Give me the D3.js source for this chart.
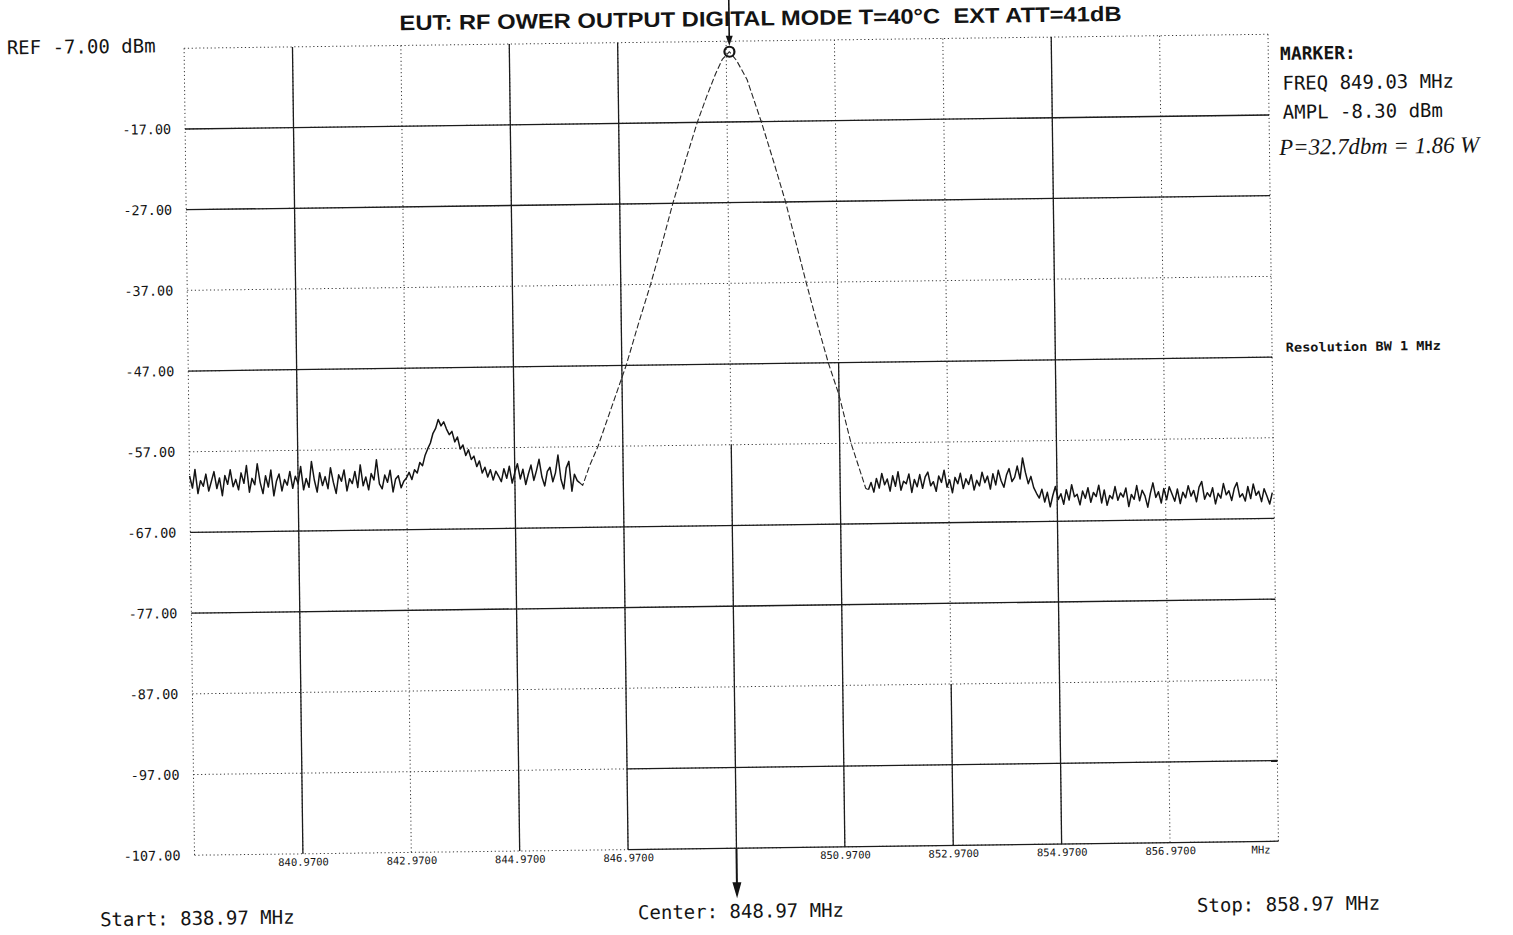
<!DOCTYPE html>
<html>
<head>
<meta charset="utf-8">
<script src="https://cdn.jsdelivr.net/npm/d3@7"></script>
<style>
  html, body { margin: 0; padding: 0; background: #fff; }
  svg { display: block; }
  text { white-space: pre; }
</style>
</head>
<body>
<svg id="chart" width="1513" height="935"></svg>
<script>
// ---------- sweep settings ----------
const startFreq = 838.97;
const stopFreq = 858.97;
const centerFreq = 848.97;
const refLevel = -7;
const bottomLevel = -107;

// grid divisions (MHz and dBm)
const gridFreqs = [838.97, 840.97, 842.97, 844.97, 846.97, 848.97, 850.97, 852.97, 854.97, 856.97, 858.97];
const gridLevels = [-7, -17, -27, -37, -47, -57, -67, -77, -87, -97, -107];

// tick labels
const yTickValues = [-17, -27, -37, -47, -57, -67, -77, -87, -97, -107];
const xTickValues = [840.97, 842.97, 844.97, 846.97, 850.97, 852.97, 854.97, 856.97];

// ---------- trace ----------
const sweepStep = 0.05;

// noise floor below the carrier, from 838.97 MHz (dBm)
const noiseLowStart = 838.97;
const noiseLow = [
  -60.0,-61.5,-59.2,-62.2,-60.6,-61.3,-59.8,-61.9,-60.7,-59.5,-61.6,-60.3,-62.5,-60.0,-61.1,-59.3,-61.4,-60.5,-61.8,-59.7,
  -61.0,-58.8,-62.1,-60.4,-61.2,-58.6,-60.9,-62.3,-60.1,-61.5,-59.4,-62.6,-60.8,-59.9,-62.0,-60.6,-61.3,-59.6,-61.7,-60.2,
  -61.1,-59.0,-61.9,-60.5,-61.6,-58.4,-60.7,-62.2,-59.8,-61.4,-60.3,-61.8,-59.2,-61.0,-62.4,-60.1,-60.9,-59.5,-62.1,-60.6,
  -61.2,-59.7,-61.7,-58.9,-61.5,-60.4,-62.0,-60.0,-60.8,-58.3,-61.3,-61.9,-60.2,-61.1,-59.6,-62.3,-60.7,-60.3,-61.8,-61.0,
  -60.6,-59.9,-60.8,-59.6,-60.0,-58.7,-59.1,-57.8,-57.0,-56.3,-55.1,-54.5,-53.4,-54.2,-53.7,-54.6,-55.3,-54.9,-56.2,-55.6,
  -57.1,-56.6,-57.9,-57.2,-58.4,-58.0,-59.3,-58.6,-60.1,-59.4,-60.6,-59.7,-61.0,-59.9,-60.5,-61.2,-59.6,-60.8,-59.3,-61.4,
  -60.1,-59.0,-60.9,-59.7,-61.6,-60.3,-59.2,-61.1,-59.9,-58.5,-60.7,-61.8,-60.0,-59.5,-61.3,-60.2,-58.0,-61.0,-62.2,-59.6,
  -58.8,-62.5,-60.4,-61.2,-61.5
];

// carrier lobe
const lobeFreq  = [846.22, 846.35, 846.51, 846.78, 847.05, 847.28, 847.52, 847.74, 847.95, 848.18, 848.42, 848.60, 848.77, 848.90,
                   849.03, 849.16, 849.35, 849.60, 849.82, 850.03, 850.21, 850.39, 850.58, 850.78, 850.97, 851.18, 851.32, 851.44];
const lobeLevel = [-61.8, -59.4, -57.0, -52.0, -47.0, -42.0, -37.0, -32.0, -27.0, -22.0, -17.0, -13.8, -11.0, -9.2,
                   -8.3, -9.4, -11.8, -17.0, -22.0, -27.0, -32.0, -37.0, -42.0, -47.0, -51.0, -57.0, -60.0, -62.6];

// noise floor above the carrier, from 851.49 MHz (dBm)
const noiseHighStart = 851.49;
const noiseHigh = [
  -62.8,-61.9,-63.1,-61.4,-62.6,-60.8,-62.2,-61.5,-63.0,-61.1,-62.4,-60.6,-62.9,-61.8,-62.1,-60.9,-63.2,-61.6,-62.5,-61.0,
  -62.7,-61.3,-60.7,-62.4,-61.9,-63.1,-61.2,-62.0,-60.5,-62.6,-61.7,-63.3,-61.4,-62.2,-60.9,-62.8,-61.6,-62.3,-61.1,-63.0,
  -61.8,-62.5,-60.8,-62.1,-61.3,-62.9,-61.0,-62.4,-60.6,-61.9,-62.7,-61.2,-60.4,-62.0,-61.5,-60.1,-61.7,-59.1,-60.9,-62.3,
  -61.4,-62.8,-63.5,-64.1,-63.0,-64.6,-63.4,-65.2,-63.8,-62.7,-64.3,-63.6,-64.9,-63.1,-64.4,-62.5,-64.0,-63.7,-65.0,-63.3,
  -64.2,-62.9,-64.7,-63.5,-64.0,-62.6,-64.8,-63.2,-65.1,-63.9,-64.3,-62.8,-64.5,-63.6,-64.1,-63.0,-65.3,-63.8,-64.4,-62.7,
  -64.6,-63.3,-64.0,-65.4,-63.7,-62.4,-64.2,-63.5,-64.9,-63.1,-64.5,-62.9,-63.8,-64.7,-63.2,-65.0,-63.6,-64.3,-62.8,-64.1,
  -63.4,-64.8,-63.0,-62.3,-64.5,-63.7,-64.2,-63.1,-65.1,-63.8,-64.4,-62.6,-64.0,-63.5,-64.7,-63.2,-62.5,-64.3,-63.9,-64.8,
  -63.0,-64.5,-62.7,-64.1,-63.6,-64.9,-63.3,-64.2,-65.2,-63.8
];

// marker readout
const markerFreq = 849.03;
const markerLevel = -8.30;

// ---------- layout ----------
const W = 1513, H = 935;
const L = 189.25, T = 41.25, PW = 1084, PH = 807;
const R = L + PW, B = T + PH;
const tilt = -0.74;              // the printed sheet sits slightly askew
const cx = L + PW / 2, cy = T + PH / 2;

const monoFont = "'DejaVu Sans Mono', 'Liberation Mono', monospace";
const ink = '#141414';

const svg = d3.select('#chart');
svg.append('rect').attr('width', W).attr('height', H).attr('fill', '#fff');
const page = svg.append('g').attr('transform', `rotate(${tilt},${cx},${cy})`);

const x = d3.scaleLinear().domain([startFreq, stopFreq]).range([L, R]);
const y = d3.scaleLinear().domain([bottomLevel, refLevel]).range([B, T]);

// ---------- graticule ----------
// which parts of each division line printed as a solid stroke
const vSolid = {
  '840.97': [-107, -7], '844.97': [-107, -7], '846.97': [-107, -7],
  '848.97': [-107, -57], '850.97': [-107, -47], '852.97': [-107, -87], '854.97': [-107, -7]
};
const hSolid = {
  '-17': [startFreq, stopFreq], '-27': [startFreq, stopFreq], '-47': [startFreq, stopFreq],
  '-67': [startFreq, stopFreq], '-77': [startFreq, stopFreq],
  '-97': [846.97, stopFreq], '-107': [846.97, stopFreq]
};

const grid = page.append('g');
const dotted = sel => sel.attr('stroke', '#3a3a3a').attr('stroke-width', 1).attr('stroke-dasharray', '1.2,2.6');
const solid = sel => sel.attr('stroke', '#1c1c1c').attr('stroke-width', 1.3);

grid.selectAll('line.vd').data(gridFreqs).join('line').attr('class', 'vd')
  .attr('x1', d => x(d)).attr('x2', d => x(d)).attr('y1', T).attr('y2', B).call(dotted);
grid.selectAll('line.hd').data(gridLevels).join('line').attr('class', 'hd')
  .attr('y1', d => y(d)).attr('y2', d => y(d)).attr('x1', L).attr('x2', R).call(dotted);

grid.selectAll('line.vs').data(gridFreqs.filter(f => vSolid[f.toFixed(2)])).join('line').attr('class', 'vs')
  .attr('x1', d => x(d)).attr('x2', d => x(d))
  .attr('y1', d => y(vSolid[d.toFixed(2)][1])).attr('y2', d => y(vSolid[d.toFixed(2)][0])).call(solid);
grid.selectAll('line.hs').data(gridLevels.filter(v => hSolid[String(v)])).join('line').attr('class', 'hs')
  .attr('y1', d => y(d)).attr('y2', d => y(d))
  .attr('x1', d => x(hSolid[String(d)][0])).attr('x2', d => x(hSolid[String(d)][1])).call(solid);

// ---------- axes labels ----------
const yAxis = page.append('g').attr('transform', `translate(${L},0)`)
  .call(d3.axisLeft(y).tickValues(yTickValues).tickSize(0).tickPadding(14).tickFormat(d => d.toFixed(2)));
yAxis.select('.domain').remove();
yAxis.selectAll('text').attr('font-family', monoFont).attr('font-size', 13.5).attr('fill', ink);

const xAxis = page.append('g').attr('transform', `translate(0,${B})`)
  .call(d3.axisBottom(x).tickValues(xTickValues).tickSize(0).tickPadding(4.5).tickFormat(d => d.toFixed(4)));
xAxis.select('.domain').remove();
xAxis.selectAll('text').attr('font-family', monoFont).attr('font-size', 10.5).attr('fill', ink);

page.append('text').attr('x', R - 8).attr('y', B + 12).attr('text-anchor', 'end')
  .attr('font-family', monoFont).attr('font-size', 10.5).attr('fill', ink).text('MHz');

// ---------- trace ----------
const lowPts = noiseLow.map((v, i) => [noiseLowStart + i * sweepStep, v]);
const highPts = noiseHigh.map((v, i) => [noiseHighStart + i * sweepStep, v]);
const lobePts = [lowPts[lowPts.length - 1], ...lobeFreq.map((f, i) => [f, lobeLevel[i]]), highPts[0]];
const line = d3.line().x(d => x(d[0])).y(d => y(d[1]));

const trace = page.append('g').attr('fill', 'none').attr('stroke-linejoin', 'round');
trace.append('path').attr('d', line(lobePts)).attr('stroke', '#262626').attr('stroke-width', 1.1)
  .attr('stroke-dasharray', '6,2.5');
trace.append('path').attr('d', line(lowPts)).attr('stroke', ink).attr('stroke-width', 1.5);
trace.append('path').attr('d', line(highPts)).attr('stroke', ink).attr('stroke-width', 1.5);

// ---------- marker ----------
const mx = x(markerFreq), my = y(markerLevel);
page.append('circle').attr('cx', mx).attr('cy', my).attr('r', 5)
  .attr('fill', 'none').attr('stroke', ink).attr('stroke-width', 2.2);
page.append('line').attr('x1', mx).attr('x2', mx).attr('y1', -4).attr('y2', my - 14)
  .attr('stroke', ink).attr('stroke-width', 1.6);
page.append('path').attr('d', `M${mx - 3.5},${my - 16} L${mx + 3.5},${my - 16} L${mx},${my - 6} Z`).attr('fill', ink);

// centre-frequency arrow below the graticule
const ccx = x(centerFreq);
page.append('line').attr('x1', ccx).attr('x2', ccx).attr('y1', B).attr('y2', B + 38)
  .attr('stroke', ink).attr('stroke-width', 2);
page.append('path').attr('d', `M${ccx - 4.5},${B + 34} L${ccx + 4.5},${B + 34} L${ccx},${B + 50} Z`).attr('fill', ink);

// ---------- annotations ----------
const txt = (xx, yy, s, size, opts = {}) => page.append('text')
  .attr('x', xx).attr('y', yy).attr('font-family', opts.family || monoFont)
  .attr('font-size', size).attr('font-weight', opts.weight || 'normal')
  .attr('font-style', opts.style || 'normal').attr('fill', ink).text(s);

txt(405, 26, 'EUT: RF OWER OUTPUT DIGITAL MODE T=40°C  EXT ATT=41dB', 21,
    { family: "'Liberation Sans Narrow', 'Arial Narrow', 'Liberation Sans', sans-serif", weight: 'bold' })
  .attr('textLength', 722).attr('lengthAdjust', 'spacingAndGlyphs');

txt(12, 45, 'REF -7.00 dBm', 19);

txt(1285, 67, 'MARKER:', 18, { weight: 'bold' });
txt(1287, 97, `FREQ ${markerFreq.toFixed(2)} MHz`, 19);
txt(1287, 126, `AMPL ${markerLevel.toFixed(2)} dBm`, 19);
txt(1283, 162, 'P=32.7dbm = 1.86 W', 23, { family: "'Liberation Serif', 'DejaVu Serif', serif", style: 'italic' })
  .attr('textLength', 200).attr('lengthAdjust', 'spacingAndGlyphs');

txt(1287, 359, 'Resolution BW 1 MHz', 12.5, { weight: 'bold' })
  .attr('textLength', 155).attr('lengthAdjust', 'spacingAndGlyphs');

txt(94, 918, `Start: ${startFreq.toFixed(2)} MHz`, 19);
txt(632, 918, `Center: ${centerFreq.toFixed(2)} MHz`, 19);
txt(1191, 918, `Stop: ${stopFreq.toFixed(2)} MHz`, 19);
</script>
</body>
</html>
